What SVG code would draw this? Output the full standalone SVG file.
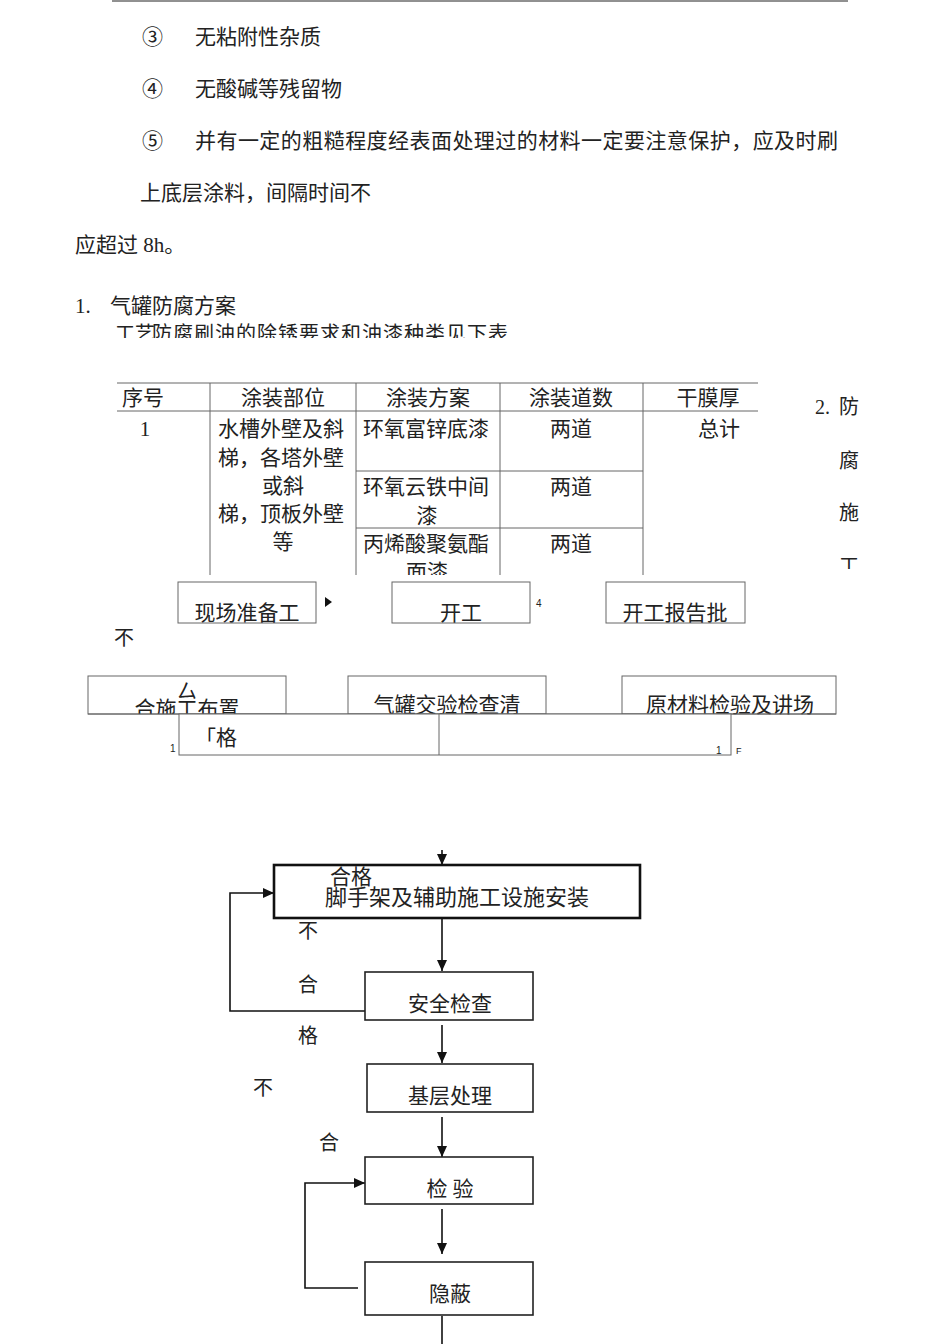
<svg xmlns="http://www.w3.org/2000/svg" width="950" height="1344" viewBox="0 0 950 1344">
<style>
.t{font-family:'Liberation Serif','Noto Sans CJK SC',serif;fill:#222;font-size:21px}
.s{font-family:'Liberation Sans','Noto Sans CJK SC',sans-serif;fill:#222;font-size:10px}
.m{text-anchor:middle}
.tl{stroke:#666;stroke-width:1;fill:none}
.bx{stroke:#666;stroke-width:1;fill:#fff}
.fb{stroke:#222;stroke-width:1.6;fill:#fff}
.cn{stroke:#111;stroke-width:1.6;fill:none}
</style>
<defs>
<marker id="ah" markerUnits="userSpaceOnUse" markerWidth="11" markerHeight="10" refX="11" refY="5" orient="auto">
<path d="M0,0 L11,5 L0,10 z" fill="#111"/>
</marker>
<clipPath id="c1"><rect x="0" y="300" width="950" height="38"/></clipPath>
<clipPath id="c2"><rect x="0" y="370" width="950" height="205"/></clipPath>
<clipPath id="c3"><rect x="0" y="370" width="950" height="199"/></clipPath>
<clipPath id="cbA"><rect x="88" y="676" width="198" height="38"/></clipPath>
<clipPath id="cr1"><rect x="0" y="580" width="950" height="43"/></clipPath>
</defs>
<rect width="950" height="1344" fill="#fff"/>
<line x1="112" y1="1" x2="848" y2="1" stroke="#222" stroke-width="1"/>

<g id="text-block">
<text class="t" x="142" y="44">③</text><text class="t" x="195" y="44">无粘附性杂质</text>
<text class="t" x="142" y="96">④</text><text class="t" x="195" y="96">无酸碱等残留物</text>
<text class="t" x="142" y="148">⑤</text><text class="t" x="195" y="148" textLength="643" lengthAdjust="spacing">并有一定的粗糙程度经表面处理过的材料一定要注意保护，应及时刷</text>
<text class="t" x="140" y="200">上底层涂料，间隔时间不</text>
<text class="t" x="75" y="252">应超过 8h。</text>
<text class="t" x="75" y="313">1.</text><text class="t" x="110" y="313">气罐防腐方案</text>
<g clip-path="url(#c1)">
<text class="t" x="115" y="341" style="font-size:20px">工艺</text>
<text class="t" x="152" y="341" style="font-size:20px" textLength="362" lengthAdjust="spacing">防腐刷油的除锈要求和油漆种类见下表.</text>
</g>
</g>

<g id="table" clip-path="url(#c2)">
<line class="tl" x1="117" y1="383" x2="758" y2="383"/>
<line class="tl" x1="117" y1="411" x2="758" y2="411"/>
<line class="tl" x1="210" y1="383" x2="210" y2="580"/>
<line class="tl" x1="356" y1="383" x2="356" y2="580"/>
<line class="tl" x1="500" y1="383" x2="500" y2="580"/>
<line class="tl" x1="643" y1="383" x2="643" y2="580"/>
<line class="tl" x1="356" y1="471" x2="643" y2="471"/>
<line class="tl" x1="356" y1="528" x2="643" y2="528"/>
<text class="t" x="122" y="405">序号</text>
<text class="t m" x="283" y="405">涂装部位</text>
<text class="t m" x="428" y="405">涂装方案</text>
<text class="t m" x="571" y="405">涂装道数</text>
<text class="t m" x="708" y="405">干膜厚</text>
<text class="t m" x="145" y="436">1</text>
<text class="t" x="218" y="436">水槽外壁及斜</text>
<text class="t" x="218" y="465">梯，各塔外壁</text>
<text class="t m" x="283" y="493">或斜</text>
<text class="t" x="218" y="521">梯，顶板外壁</text>
<text class="t m" x="283" y="549">等</text>
<text class="t" x="363" y="436">环氧富锌底漆</text>
<text class="t" x="363" y="494">环氧云铁中间</text>
<text class="t m" x="427" y="523">漆</text>
<text class="t" x="363" y="551">丙烯酸聚氨酯</text>
<text class="t m" x="427" y="579">面漆</text>
<text class="t m" x="571" y="436">两道</text>
<text class="t m" x="571" y="494">两道</text>
<text class="t m" x="571" y="551">两道</text>
<text class="t m" x="719" y="436">总计</text>
</g>

<g id="side-title" clip-path="url(#c3)">
<text class="t" x="815" y="414" style="font-size:20px">2.</text>
<text class="t" x="839" y="414" style="font-size:20px">防</text>
<text class="t" x="839" y="468" style="font-size:20px">腐</text>
<text class="t" x="839" y="520" style="font-size:20px">施</text>
<text class="t" x="839" y="573" style="font-size:20px">工</text>
</g>

<g id="node-xianchang">
<rect class="bx" x="178" y="582" width="138" height="41"/>
<text class="t m" x="247" y="620" clip-path="url(#cr1)">现场准备工</text>
</g>
<g id="node-kaigong">
<rect class="bx" x="392" y="582" width="138" height="41"/>
<text class="t m" x="461" y="620" clip-path="url(#cr1)">开工</text>
</g>
<g id="node-baogao">
<rect class="bx" x="606" y="582" width="139" height="41"/>
<text class="t m" x="675" y="620" clip-path="url(#cr1)">开工报告批</text>
</g>
<polygon points="325,597 332,602 325,607" fill="#111"/>
<text class="s" x="536" y="607">4</text>
<text class="t" x="114" y="645" style="font-size:20px">不</text>

<g id="node-buzhi">
<rect class="bx" x="88" y="676" width="198" height="38"/>
<g clip-path="url(#cbA)">
<text class="t m" x="187" y="716">合施工布置</text>
</g>
<text class="t" x="177" y="699" style="font-size:20px">厶</text>
</g>
<g id="node-jiaoyan">
<rect class="bx" x="348" y="676" width="198" height="38"/>
<text class="t m" x="447" y="712">气罐交验检查清</text>
</g>
<g id="node-yuancailiao">
<rect class="bx" x="622" y="676" width="214" height="38"/>
<text class="t m" x="730" y="712">原材料检验及讲场</text>
</g>
<line class="tl" x1="88" y1="714" x2="836" y2="714"/>
<g id="node-hege">
<rect class="bx" x="179" y="714" width="552" height="41"/>
<line class="tl" x1="439" y1="714" x2="439" y2="755"/>
<text class="t" x="195" y="745">「格</text>
</g>
<text class="s" x="170" y="752">1</text>
<text class="s" x="716" y="754">1</text>
<text class="s" x="736" y="754" style="font-size:9px">F</text>

<g id="connectors">
<path class="cn" d="M442,850 L442,865" marker-end="url(#ah)"/>
<path class="cn" d="M442,918 L442,971" marker-end="url(#ah)"/>
<path class="cn" d="M442,1025 L442,1063" marker-end="url(#ah)"/>
<path class="cn" d="M442,1117 L442,1157" marker-end="url(#ah)"/>
<path class="cn" d="M442,1209 L442,1254" marker-end="url(#ah)"/>
<path class="cn" d="M442,1316 L442,1344"/>
<path class="cn" d="M365,1011 L230,1011 L230,893 L274,893" marker-end="url(#ah)"/>
<path class="cn" d="M358,1288 L305,1288 L305,1183 L365,1183" marker-end="url(#ah)"/>
</g>

<g id="node-jiaoshoujia">
<rect x="274" y="865" width="366" height="53" fill="#fff" stroke="#111" stroke-width="2.6"/>
<text class="t m" x="457" y="905" style="font-size:22px">脚手架及辅助施工设施安装</text>
<text class="t" x="330" y="884">合格</text>
</g>
<g id="node-anquan">
<rect class="fb" x="365" y="972" width="168" height="48"/>
<text class="t m" x="450" y="1011">安全检查</text>
</g>
<g id="node-jiceng">
<rect class="fb" x="367" y="1064" width="166" height="48"/>
<text class="t m" x="450" y="1103">基层处理</text>
</g>
<g id="node-jianyan">
<rect class="fb" x="365" y="1157" width="168" height="47"/>
<text class="t m" x="450" y="1196">检 验</text>
</g>
<g id="node-yinbi">
<rect class="fb" x="365" y="1262" width="168" height="53"/>
<text class="t m" x="450" y="1301">隐蔽</text>
</g>

<g id="labels">
<text class="t" x="298" y="938" style="font-size:20px">不</text>
<text class="t" x="298" y="992" style="font-size:20px">合</text>
<text class="t" x="298" y="1043" style="font-size:20px">格</text>
<text class="t" x="253" y="1095" style="font-size:20px">不</text>
<text class="t" x="319" y="1150" style="font-size:20px">合</text>
</g>
</svg>
